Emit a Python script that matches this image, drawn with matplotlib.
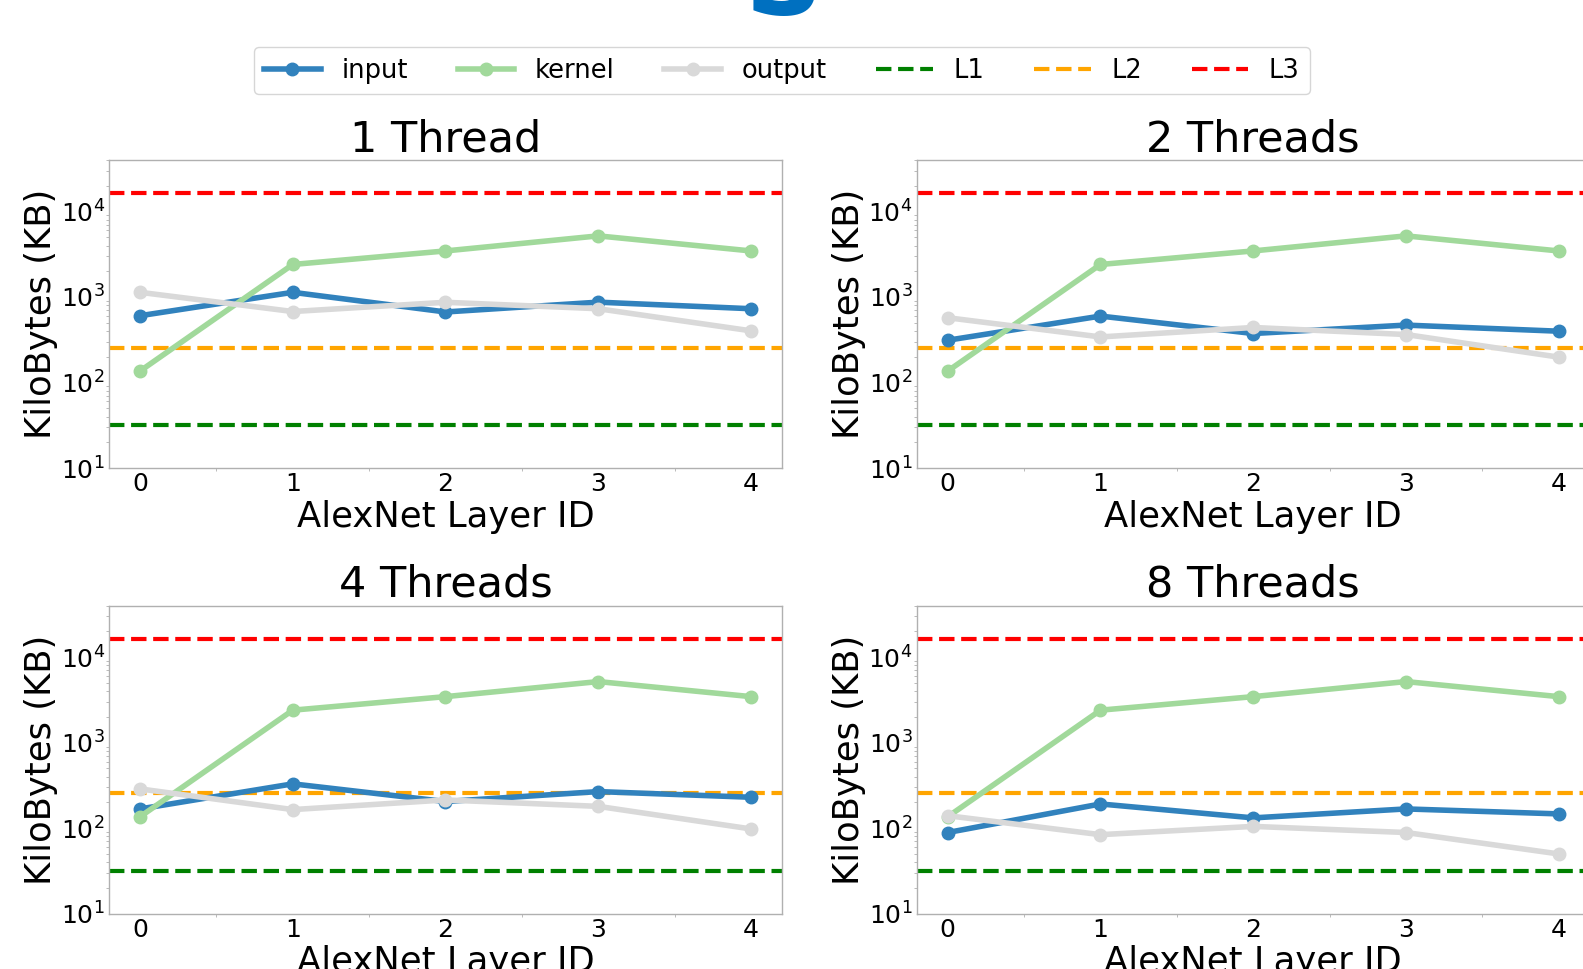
import matplotlib
matplotlib.use("Agg")
import matplotlib.pyplot as plt

layers = [0, 1, 2, 3, 4]
titles = ["1 Thread", "2 Threads", "4 Threads", "8 Threads"]
kernel = [136, 2400, 3456, 5184, 3456]
input_1 = [604, 1134, 668, 870, 729]
output_1 = [1134, 676, 867, 729, 402]
input_2 = [312, 598, 374, 469, 398]
output_2 = [572, 341, 440, 364, 198]
input_4 = [168, 330, 205, 268, 230]
output_4 = [288, 165, 214, 180, 98]
input_8 = [89, 192, 132, 168, 147]
output_8 = [140, 84, 105, 89, 50]
cache_L1 = 32
cache_L2 = 256
cache_L3 = 16384

inputs = [input_1, input_2, input_4, input_8]
outputs = [output_1, output_2, output_4, output_8]

W, H = 1583, 969
fig = plt.figure(figsize=(W / 100, H / 100), dpi=100)

ax_w = 673 / W
ax_h = 308 / H
lefts = [109 / W, 916.7 / W]
bottoms = [1 - 468 / H, 1 - 913.7 / H]
positions = [(lefts[0], bottoms[0]), (lefts[1], bottoms[0]),
             (lefts[0], bottoms[1]), (lefts[1], bottoms[1])]

spine_c = "#b0b0b0"
for i, (l, b) in enumerate(positions):
    ax = fig.add_axes([l, b, ax_w, ax_h])
    ax.plot(layers, inputs[i], marker="o", color="#3182bd", lw=4, ms=9, label="input", zorder=3)
    ax.plot(layers, kernel, marker="o", color="#a1d99b", lw=4, ms=9, label="kernel", zorder=3)
    ax.plot(layers, outputs[i], marker="o", color="#d9d9d9", lw=4, ms=9, label="output", zorder=3)
    ax.axhline(cache_L1, color="green", ls="--", lw=3, label="L1", zorder=2)
    ax.axhline(cache_L2, color="orange", ls="--", lw=3, label="L2", zorder=2)
    ax.axhline(cache_L3, color="red", ls="--", lw=3, label="L3", zorder=2)
    ax.set_yscale("log")
    ax.set_ylim(10, 40000)
    ax.set_xlim(-0.203, 4.203)
    ax.set_xticks(layers)
    ax.set_xticks([0.5, 1.5, 2.5, 3.5], minor=True)
    ax.set_title(titles[i], fontsize=31)
    ax.set_xlabel("AlexNet Layer ID", fontsize=25.5, labelpad=2.5)
    ax.set_ylabel("KiloBytes (KB)", fontsize=25.5, labelpad=2)
    ax.tick_params(axis="both", which="major", labelsize=18, length=0, pad=3)
    ax.tick_params(axis="both", which="minor", length=2, color=spine_c)
    for s in ax.spines.values():
        s.set_color(spine_c)
        s.set_linewidth(1)
    if i == 0:
        handles, labels = ax.get_legend_handles_labels()

fig.legend(handles, labels, loc="center", bbox_to_anchor=(782 / W, 1 - 70.5 / H),
           ncol=6, fontsize=18.5, handlelength=2.2, columnspacing=1.94, frameon=True)

fig.text(0.4946, 1 - 14 / H, "S", color="#0070c0", fontsize=78, fontweight="bold",
         ha="center", va="baseline")

fig.savefig("out.png", dpi=100)
